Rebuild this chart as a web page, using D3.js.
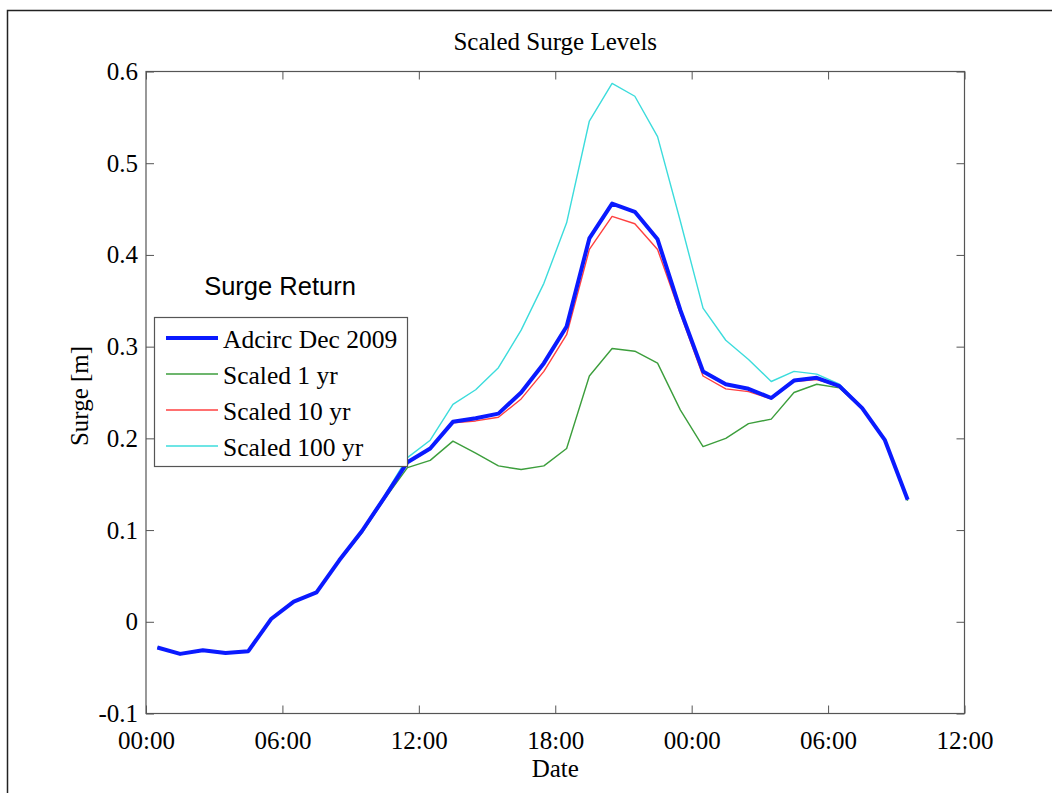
<!DOCTYPE html>
<html>
<head>
<meta charset="utf-8">
<script src="https://cdn.jsdelivr.net/npm/d3@7"></script>
<style>
body { margin:0; background:#fff; }
text { font-family: "Liberation Serif", "Times New Roman", serif; }
</style>
</head>
<body>
<div id="graph"></div>
<script>
// hours after 00:00 of the first day
let hours = [0.5,1.5,2.5,3.5,4.5,5.5,6.5,7.5,8.5,9.5,10.5,11.5,12.5,13.5,14.5,15.5,16.5,
    17.5,18.5,19.5,20.5,21.5,22.5,23.5,24.5,25.5,26.5,27.5,28.5,29.5,30.5,31.5,32.5,33.5];

let adcirc = [-0.028,-0.035,-0.031,-0.034,-0.032,0.003,0.022,0.032,0.067,0.099,0.136,0.174,
    0.189,0.218,0.222,0.227,0.250,0.282,0.322,0.418,0.456,0.447,0.417,0.340,0.273,0.259,
    0.254,0.244,0.263,0.266,0.257,0.233,0.198,0.133];
let scaled1 = [-0.028,-0.035,-0.031,-0.034,-0.032,0.003,0.022,0.032,0.066,0.097,0.134,0.168,
    0.176,0.197,0.184,0.170,0.166,0.170,0.189,0.268,0.298,0.295,0.282,0.231,0.191,0.200,
    0.216,0.221,0.250,0.259,0.255,0.232,0.197,0.132];
let scaled10 = [-0.028,-0.035,-0.031,-0.034,-0.032,0.003,0.022,0.032,0.067,0.099,0.136,0.173,
    0.188,0.217,0.219,0.223,0.243,0.273,0.313,0.406,0.442,0.434,0.406,0.336,0.268,0.254,
    0.251,0.243,0.262,0.264,0.257,0.233,0.198,0.133];
let scaled100 = [-0.028,-0.035,-0.031,-0.034,-0.032,0.003,0.022,0.032,0.068,0.100,0.138,0.179,
    0.198,0.237,0.253,0.277,0.318,0.369,0.435,0.546,0.587,0.573,0.529,0.437,0.342,0.307,
    0.286,0.262,0.273,0.270,0.259,0.234,0.198,0.133];

let yTicks = [-0.1,0,0.1,0.2,0.3,0.4,0.5,0.6];
let names = ['Adcirc Dec 2009','Scaled 1 yr','Scaled 10 yr','Scaled 100 yr'];

let W = 1052, H = 793;
let pLeft = 146, pRight = 964.5, pTop = 71.5, pBottom = 713.5;
let start = new Date(2009, 11, 9, 0, 0);
let toDate = h => new Date(start.getTime() + h*3600000);

let svg = d3.select('#graph').append('svg')
    .attr('width', W).attr('height', H);

// outer frame (top + left only)
svg.append('path')
    .attr('d', `M7.5,${H} L7.5,10.5 L${W},10.5`)
    .attr('fill','none').attr('stroke','#222').attr('stroke-width',1.5);

let x = d3.scaleTime().domain([start, toDate(36)]).range([pLeft, pRight]);
let y = d3.scaleLinear().domain([-0.1, 0.6]).range([pBottom, pTop]);

let fmtY = d => d === 0 ? '0' : (d < 0 ? '-' : '') + Math.abs(d).toFixed(1);
let xTickVals = d3.timeHour.every(6).range(start, toDate(36.01));

function styleAxis(g){
    g.select('.domain').remove();
    g.selectAll('line').attr('stroke','#555');
    g.selectAll('text').attr('fill','#000').style('font-size','25px')
        .style('font-family','"Liberation Serif", serif');
}

svg.append('g').attr('transform',`translate(0,${pBottom})`)
    .call(d3.axisBottom(x).tickValues(xTickVals).tickFormat(d3.timeFormat('%H:%M'))
        .tickSize(-8).tickPadding(18))
    .call(styleAxis);
svg.append('g').attr('transform',`translate(0,${pTop})`)
    .call(d3.axisTop(x).tickValues(xTickVals).tickFormat('').tickSize(-8))
    .call(styleAxis);
svg.append('g').attr('transform',`translate(${pLeft},0)`)
    .call(d3.axisLeft(y).tickValues(yTicks).tickFormat(fmtY).tickSize(-8).tickPadding(8))
    .call(styleAxis);
svg.append('g').attr('transform',`translate(${pRight},0)`)
    .call(d3.axisRight(y).tickValues(yTicks).tickFormat('').tickSize(-8))
    .call(styleAxis);

svg.append('rect')
    .attr('x', pLeft).attr('y', pTop).attr('width', pRight-pLeft).attr('height', pBottom-pTop)
    .attr('fill','none').attr('stroke','#555').attr('stroke-width',1.2);

let series = [
    {name: names[1], vals: scaled1, color:'#3c9e3c', w:1.4},
    {name: names[2], vals: scaled10, color:'#ff4040', w:1.4},
    {name: names[3], vals: scaled100, color:'#3cdcdc', w:1.4},
    {name: names[0], vals: adcirc, color:'#0a1aff', w:4}
];

let line = d3.line().x((d,i) => x(toDate(hours[i]))).y(d => y(d));

svg.selectAll('path.series')
    .data(series)
    .enter()
    .append('path')
    .attr('class','series')
    .attr('d', d => line(d.vals))
    .attr('fill','none')
    .attr('stroke', d => d.color)
    .attr('stroke-width', d => d.w)
    .attr('stroke-linejoin','round');

// titles
svg.append('text').text('Scaled Surge Levels')
    .attr('x', (pLeft+pRight)/2).attr('y', 50).attr('text-anchor','middle')
    .style('font-size','25px');
svg.append('text').text('Date')
    .attr('x', (pLeft+pRight)/2).attr('y', 777).attr('text-anchor','middle')
    .style('font-size','25px');
svg.append('text').text('Surge [m]')
    .attr('transform','translate(88,396) rotate(-90)').attr('text-anchor','middle')
    .style('font-size','25px');

// legend
let lg = svg.append('g');
lg.append('text').text('Surge Return')
    .attr('x', 280).attr('y', 295).attr('text-anchor','middle')
    .style('font-family','"Liberation Sans", Arial, sans-serif').style('font-size','25.5px');
lg.append('rect')
    .attr('x',154.5).attr('y',317.5).attr('width',253).attr('height',149)
    .attr('fill','#fff').attr('stroke','#555').attr('stroke-width',1.2);

let legOrder = [series[3], series[0], series[1], series[2]];
legOrder.forEach((s,i) => {
    let ly = 338 + i*36;
    lg.append('line').attr('x1',166).attr('x2',218).attr('y1',ly).attr('y2',ly)
        .attr('stroke', s.color).attr('stroke-width', s.w);
    lg.append('text').text(s.name).attr('x',223).attr('y',ly+10)
        .style('font-size','25.5px');
});
</script>
</body>
</html>
